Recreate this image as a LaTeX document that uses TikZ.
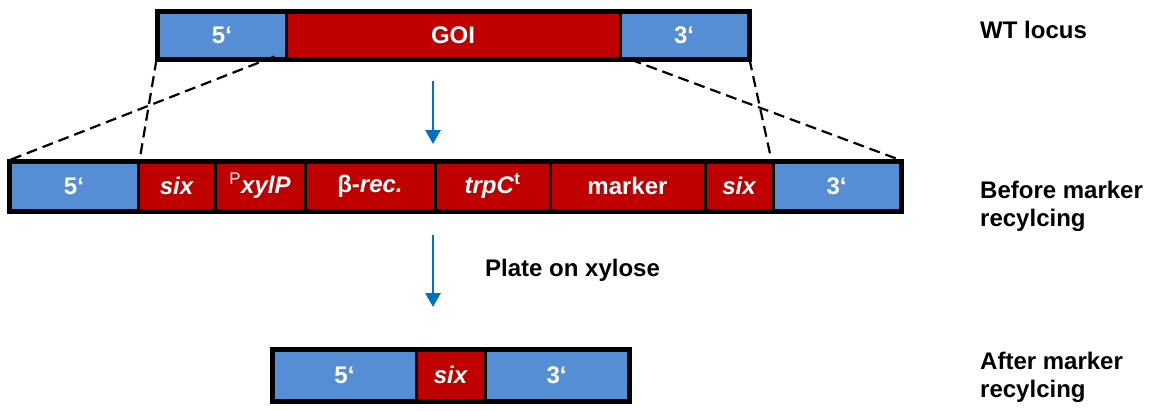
\documentclass[tikz,border=0pt]{standalone}
\usepackage{fontspec}
\setmainfont{Liberation Sans}
\usetikzlibrary{arrows.meta}
\definecolor{flank}{RGB}{85,142,213}
\definecolor{gene}{RGB}{192,0,0}
\definecolor{arr}{RGB}{0,112,192}
\tikzset{
  seg/.style={rectangle, draw=black, line width=3pt, inner sep=0pt, text=white,
    font=\fontsize{24}{28}\selectfont\bfseries},
  bluebox/.style={seg, fill=flank},
  redbox/.style={seg, fill=gene},
  outer/.style={draw=black, line width=4pt},
  dashline/.style={draw=black, line width=2.2pt, dash pattern=on 11pt off 6pt},
  flow/.style={draw=arr, line width=2.8pt, -{Triangle[width=15pt,length=14pt]}},
  lab/.style={anchor=west, align=left, inner sep=0pt, font=\fontsize{24}{28}\selectfont\bfseries}
}
\begin{document}
\begin{tikzpicture}[x=1pt,y=-1pt]
\useasboundingbox (0,0) rectangle (1158,410);
% top row
\node[bluebox, minimum width=128pt, minimum height=46pt] (t5) at (222,35) {5‘};
\node[redbox, minimum width=334pt, minimum height=46pt] (tg) at (453,35) {GOI};
\node[bluebox, minimum width=128pt, minimum height=46pt] (t3) at (684,35) {3‘};
\draw[outer] (t5.north west) rectangle (t3.south east);
% middle row
\node[bluebox, minimum width=128pt, minimum height=48pt] (m5) at (74,186) {5‘};
\node[redbox, minimum width=77pt, minimum height=48pt] (ms1) at (176.5,186) {\itshape six};
\node[redbox, minimum width=90pt, minimum height=48pt] (mp) at (260,186) {\textsuperscript{\upshape\mdseries P}\itshape xylP};
\node[redbox, minimum width=130pt, minimum height=48pt] (mb) at (370,186) {β-\textit{rec.}};
\node[redbox, minimum width=115pt, minimum height=48pt] (mt) at (492.5,186) {\textit{trpC}\textsuperscript{\upshape t}};
\node[redbox, minimum width=155pt, minimum height=48pt] (mm) at (627.5,186) {marker};
\node[redbox, minimum width=68pt, minimum height=48pt] (ms2) at (739,186) {\itshape six};
\node[bluebox, minimum width=127pt, minimum height=48pt] (m3) at (836.5,186) {3‘};
\draw[outer] (m5.north west) rectangle (m3.south east);
% bottom row
\node[bluebox, minimum width=143pt, minimum height=50pt] (b5) at (344.5,375) {5‘};
\node[redbox, minimum width=69pt, minimum height=50pt] (bs) at (450.5,375) {\itshape six};
\node[bluebox, minimum width=143pt, minimum height=50pt] (b3) at (556.5,375) {3‘};
\draw[outer] (b5.north west) rectangle (b3.south east);
% dashed zoom lines
\draw[dashline] (t5.south west) -- (m5.north east);
\draw[dashline] ([xshift=-13pt,yshift=3pt]t5.south east) -- (m5.north west);
\draw[dashline] ([xshift=12pt]t3.south west) -- (m3.north east);
\draw[dashline] (t3.south east) -- (m3.north west);
% arrows
\coordinate (a1s) at (433,81);
\coordinate (a1e) at (433,144);
\coordinate (a2s) at (433,235);
\coordinate (a2e) at (433,307);
\draw[flow] (a1s) -- (a1e);
\draw[flow] (a2s) -- (a2e);
\node[lab] (plate) at (485,270) {Plate on xylose};
% right labels
\node[lab] (wt) at (980,30) {WT locus};
\node[lab] (before) at (980,206) {Before marker\\recylcing};
\node[lab] (after) at (980,377) {After marker\\recylcing};
\end{tikzpicture}
\end{document}
